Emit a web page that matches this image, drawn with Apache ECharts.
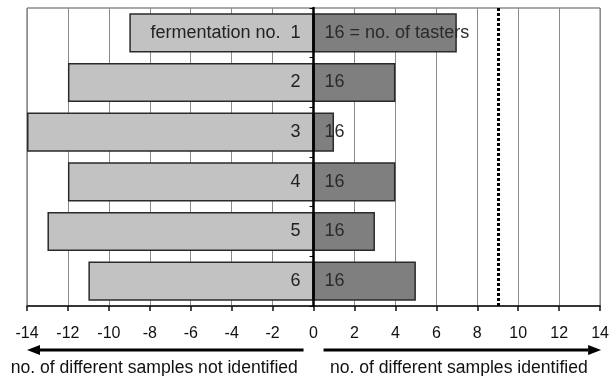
<!DOCTYPE html>
<html>
<head>
<meta charset="utf-8">
<script src="https://cdn.jsdelivr.net/npm/echarts@6/dist/echarts.min.js"></script>
<style>
  html, body { margin: 0; padding: 0; background: #fff; }
  #chart { width: 612px; height: 376px; }
</style>
</head>
<body>
<div id="chart"></div>
<script>
// Fermentations 1..6, top to bottom
const fermentations = ['1', '2', '3', '4', '5', '6'];
// Samples not identified (plotted to the left of zero)
const notIdentified = [-9, -12, -14, -12, -13, -11];
// Samples identified (plotted to the right of zero)
const identified = [7, 4, 1, 4, 3, 5];
// Number of tasters per fermentation
const tasters = [16, 16, 16, 16, 16, 16];
// Reference level drawn as a dotted line
const threshold = 9;
const xTicks = { min: -14, max: 14, interval: 2 };

const FONT = '"Liberation Sans", Arial, sans-serif';
const chart = echarts.init(document.getElementById('chart'), null, { renderer: 'canvas' });

const option = {
  animation: false,
  backgroundColor: '#fff',
  grid: {
    left: 27, right: 10, top: 8, bottom: 70,
    show: true, borderColor: '#555', borderWidth: 1
  },
  xAxis: {
    type: 'value',
    min: xTicks.min, max: xTicks.max, interval: xTicks.interval,
    axisLine: { show: true, onZero: false, lineStyle: { color: '#111', width: 1.5 } },
    axisTick: { show: true, length: 5, lineStyle: { color: '#111', width: 1.5 } },
    axisLabel: { fontFamily: FONT, fontSize: 16, color: '#111', margin: 20 },
    splitLine: { show: true, lineStyle: { color: '#8a8a8a', width: 1 } }
  },
  yAxis: {
    type: 'category',
    data: fermentations,
    inverse: true,
    z: 5,
    axisLine: { show: true, onZero: true, lineStyle: { color: '#000', width: 2.5 } },
    axisTick: { show: true, length: 4, lineStyle: { color: '#000', width: 1 } },
    axisLabel: { show: false },
    splitLine: { show: false }
  },
  series: [
    {
      name: 'not identified',
      type: 'bar',
      data: notIdentified,
      barWidth: '79%',
      barGap: '-100%',
      itemStyle: { color: '#c2c2c2', borderColor: '#2a2a2a', borderWidth: 1.5 },
      label: {
        show: true,
        position: 'insideRight',
        distance: 13,
        fontFamily: FONT, fontSize: 18, color: '#222',
        formatter: p => p.dataIndex === 0 ? 'fermentation no.  ' + p.name : p.name
      }
    },
    {
      name: 'identified',
      type: 'bar',
      data: identified,
      barWidth: '79%',
      itemStyle: { color: '#7f7f7f', borderColor: '#2a2a2a', borderWidth: 1.5 },
      label: {
        show: true,
        position: 'insideLeft',
        distance: 11,
        fontFamily: FONT, fontSize: 18, color: '#2a2a2a',
        formatter: p => p.dataIndex === 0
          ? tasters[p.dataIndex] + ' = no. of tasters'
          : String(tasters[p.dataIndex])
      },
      markLine: {
        silent: true,
        symbol: 'none',
        label: { show: false },
        lineStyle: { color: '#000', type: [3, 2], width: 3 },
        data: [{ xAxis: threshold }]
      }
    }
  ]
};

chart.setOption(option);

// Direction arrows and captions below the axis
const xLeft = chart.convertToPixel({ xAxisIndex: 0 }, xTicks.min);
const xZero = chart.convertToPixel({ xAxisIndex: 0 }, 0);
const xRight = chart.convertToPixel({ xAxisIndex: 0 }, xTicks.max);
const arrowY = 350;
const captionY = 368;
const gap = 10;

function arrow(fromX, toX) {
  const dir = Math.sign(toX - fromX);
  const headLen = 13, headHalf = 5;
  return [
    {
      type: 'line',
      shape: { x1: fromX, y1: arrowY, x2: toX - dir * headLen, y2: arrowY },
      style: { stroke: '#000', lineWidth: 3 }
    },
    {
      type: 'polygon',
      shape: { points: [[toX, arrowY], [toX - dir * headLen, arrowY - headHalf], [toX - dir * headLen, arrowY + headHalf]] },
      style: { fill: '#000' }
    }
  ];
}

chart.setOption({
  graphic: [
    ...arrow(xZero - gap, xLeft),
    ...arrow(xZero + gap, xRight + 1),
    {
      type: 'text',
      x: (xLeft + xZero) / 2 - 16, y: captionY,
      style: {
        text: 'no. of different samples not identified',
        font: '17.6px ' + FONT, fill: '#111',
        align: 'center', verticalAlign: 'middle'
      }
    },
    {
      type: 'text',
      x: (xZero + xRight) / 2 + 2, y: captionY,
      style: {
        text: 'no. of different samples identified',
        font: '17.6px ' + FONT, fill: '#111',
        align: 'center', verticalAlign: 'middle'
      }
    }
  ]
});
</script>
</body>
</html>
